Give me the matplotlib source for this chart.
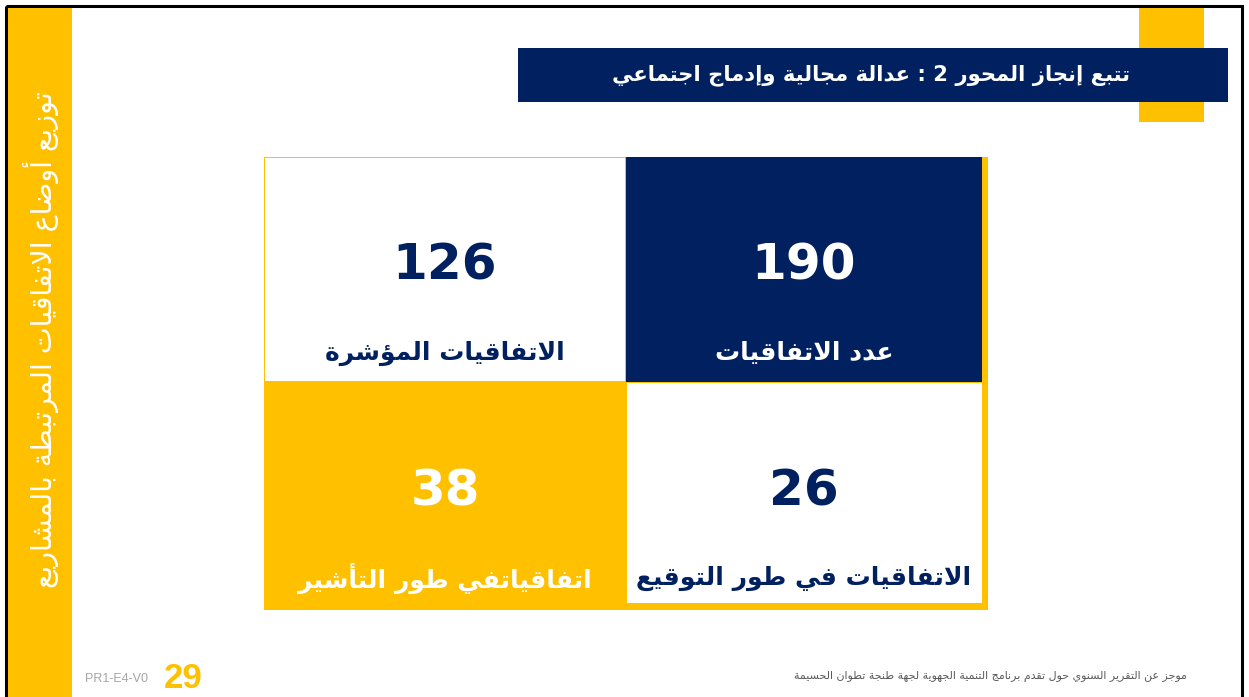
import matplotlib
matplotlib.use("Agg")
import matplotlib.pyplot as plt
from matplotlib.patches import Rectangle

# colours
NAVY = "#002060"
YELLOW = "#FFC000"

# the data
values = [126, 190, 38, 26]
labels = ["الاتفاقيات المؤشرة", "عدد الاتفاقيات",
          "اتفاقياتفي طور التأشير", "الاتفاقيات في طور التوقيع"]
title = "تتبع إنجاز المحور 2 : عدالة مجالية وإدماج اجتماعي"
side_title = "توزيع أوضاع الاتفاقيات المرتبطة بالمشاريع"
footer = "موجز عن التقرير السنوي حول تقدم برنامج التنمية الجهوية لجهة طنجة تطوان الحسيمة"
page_code = "PR1-E4-V0"
page_num = "29"

# matplotlib has no arabic shaping, so map letters to presentation forms by hand
spec = [("ء", 0xFE80, 1), ("آ", 0xFE81, 2), ("أ", 0xFE83, 2), ("ؤ", 0xFE85, 2),
        ("إ", 0xFE87, 2), ("ئ", 0xFE89, 4), ("ا", 0xFE8D, 2), ("ب", 0xFE8F, 4),
        ("ة", 0xFE93, 2), ("ت", 0xFE95, 4), ("ث", 0xFE99, 4), ("ج", 0xFE9D, 4),
        ("ح", 0xFEA1, 4), ("خ", 0xFEA5, 4), ("د", 0xFEA9, 2), ("ذ", 0xFEAB, 2),
        ("ر", 0xFEAD, 2), ("ز", 0xFEAF, 2), ("س", 0xFEB1, 4), ("ش", 0xFEB5, 4),
        ("ص", 0xFEB9, 4), ("ض", 0xFEBD, 4), ("ط", 0xFEC1, 4), ("ظ", 0xFEC5, 4),
        ("ع", 0xFEC9, 4), ("غ", 0xFECD, 4), ("ف", 0xFED1, 4), ("ق", 0xFED5, 4),
        ("ك", 0xFED9, 4), ("ل", 0xFEDD, 4), ("م", 0xFEE1, 4), ("ن", 0xFEE5, 4),
        ("ه", 0xFEE9, 4), ("و", 0xFEED, 2), ("ى", 0xFEEF, 2), ("ي", 0xFEF1, 4)]
FORMS = {c: tuple(chr(b + k) for k in range(n)) for c, b, n in spec}
LAMALEF = {"ا": (chr(0xFEFB), chr(0xFEFC)), "أ": (chr(0xFEF7), chr(0xFEF8)),
           "إ": (chr(0xFEF9), chr(0xFEFA)), "آ": (chr(0xFEF5), chr(0xFEF6))}


def ar(txt):
    units = []
    i = 0
    while i < len(txt):
        c = txt[i]
        if c == "ل" and i + 1 < len(txt) and txt[i + 1] in LAMALEF:
            units.append((c, LAMALEF[txt[i + 1]]))
            i += 2
        else:
            units.append((c, FORMS.get(c)))
            i += 1
    out = []
    for k, (c, f) in enumerate(units):
        if f is None:
            out.append(c)
            continue
        prev = k > 0 and units[k - 1][1] is not None and len(units[k - 1][1]) == 4 and len(f) > 1
        nxt = len(f) == 4 and k + 1 < len(units) and units[k + 1][1] is not None
        if prev and nxt:
            out.append(f[3])
        elif prev:
            out.append(f[1])
        elif nxt:
            out.append(f[2])
        else:
            out.append(f[0])
    return "".join(out)[::-1]


fig = plt.figure(figsize=(12.49, 6.97), dpi=100)
ax = fig.add_axes([0, 0, 1, 1])
ax.set_xlim(0, 1249)
ax.set_ylim(697, 0)
ax.axis("off")

# page frame and side bar
ax.add_patch(Rectangle((6, 6), 1236, 720, fill=False, ec="black", lw=2.2))
ax.add_patch(Rectangle((8, 8), 64, 700, fc=YELLOW, ec="none"))
ax.text(41, 340, ar(side_title), rotation=90, color="white", fontsize=20.5,
        ha="center", va="center", family="DejaVu Sans")

# title box
ax.add_patch(Rectangle((1139, 8), 65, 114, fc=YELLOW, ec="none"))
ax.add_patch(Rectangle((518, 48), 710, 54, fc=NAVY, ec="none"))
ax.text(1130, 75, ar(title), color="white", fontsize=15.2, fontweight="bold",
        ha="right", va="center", family="DejaVu Sans")

# 2x2 grid of cards
col_x, col_w = [264, 626], [362, 356]
row_y, row_h = [157, 382], [225, 222]
ax.add_patch(Rectangle((264, 157), 724, 453, fc=YELLOW, ec="none"))
cell_fc = ["white", NAVY, YELLOW, "white"]
txt_c = [NAVY, "white", "white", NAVY]
inset = [1, 0, 0, 1]
for i, v in enumerate(values):
    r, c = divmod(i, 2)
    cx, cy, w, h = col_x[c], row_y[r], col_w[c], row_h[r]
    if cell_fc[i] != YELLOW:
        d = inset[i]
        ax.add_patch(Rectangle((cx + d, cy + d), w - 2 * d if c == 0 else w - d,
                               h - 2 * d if r == 0 else h - d - 1,
                               fc=cell_fc[i], ec="none"))
    ax.text(cx + w / 2, cy + 109, str(v), color=txt_c[i], fontsize=36,
            fontweight="bold", ha="center", va="center", family="DejaVu Sans")
    ax.text(cx + w / 2, cy + 196, ar(labels[i]), color=txt_c[i], fontsize=18,
            fontweight="bold", ha="center", va="center", family="DejaVu Sans")

# footer
ax.text(85, 679, page_code, color="#A6A6A6", fontsize=9, ha="left", va="center",
        family="Liberation Sans")
ax.text(164, 678, page_num, color=YELLOW, fontsize=25, fontweight="bold",
        ha="left", va="center", family="Liberation Sans")
ax.text(1187, 677, ar(footer), color="#595959", fontsize=7.9, ha="right", va="center",
        family="DejaVu Sans")

fig.savefig("out.png", dpi=100)
